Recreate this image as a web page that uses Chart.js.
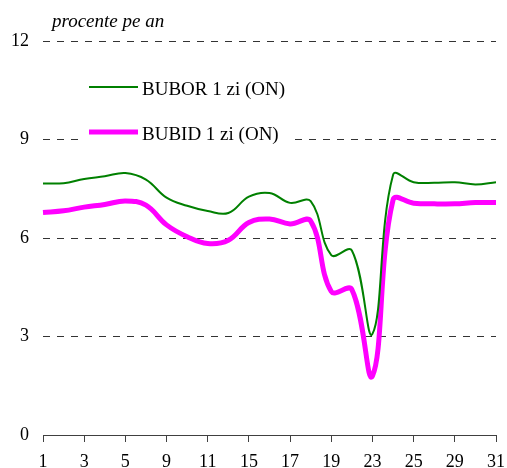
<!DOCTYPE html>
<html>
<head>
<meta charset="utf-8">
<script src="https://cdn.jsdelivr.net/npm/chart.js@4"></script>
<style>
  html, body { margin: 0; padding: 0; background: #fff; }
  #wrap { width: 507px; height: 468px; position: relative; }
</style>
</head>
<body>
<div id="wrap"><canvas id="chart" width="507" height="468"></canvas></div>
<script>
// zilele lucratoare ale lunii (etichete pe axa x, din doua in doua)
const days = ['1', '2', '3', '4', '5', '8', '9', '10', '11', '12', '15', '16',
  '17', '18', '19', '22', '23', '24', '25', '26', '29', '30', '31'];

const bubor = [7.66, 7.67, 7.8, 7.88, 7.98, 7.78, 7.23, 6.98, 6.82, 6.76, 7.26, 7.37,
  7.07, 7.12, 5.48, 5.62, 3.08, 7.92, 7.7, 7.68, 7.7, 7.63, 7.7];

const bubid = [6.78, 6.83, 6.94, 7.02, 7.13, 7.0, 6.4, 6.04, 5.83, 5.93, 6.47, 6.58,
  6.43, 6.52, 4.37, 4.43, 1.8, 7.16, 7.06, 7.04, 7.04, 7.08, 7.08];

const yTicks = [0, 3, 6, 9, 12];

const seriesNames = ['BUBOR 1 zi (ON)', 'BUBID 1 zi (ON)'];
const unitLabel = 'procente pe an';

const serif = "'Liberation Serif', 'Times New Roman', serif";

// titlu + legenda desenate direct pe canvas
const decorPlugin = {
  id: 'decor',
  afterDraw(chart) {
    const ctx = chart.ctx;
    ctx.save();
    ctx.fillStyle = '#000';
    ctx.font = 'italic 19px ' + serif;
    ctx.textBaseline = 'alphabetic';
    ctx.fillText(unitLabel, 52, 27);

    // fundal alb pentru legenda (acopera linia de grila de la 9)
    ctx.fillStyle = '#fff';
    ctx.fillRect(82, 62, 208, 90);

    const items = [
      { y: 87, color: '#008000', width: 2 },
      { y: 132, color: '#ff00ff', width: 5 }
    ];
    items.forEach((it, i) => {
      ctx.beginPath();
      ctx.strokeStyle = it.color;
      ctx.lineWidth = it.width;
      ctx.moveTo(89, it.y);
      ctx.lineTo(138, it.y);
      ctx.stroke();
      ctx.fillStyle = '#000';
      ctx.font = '19px ' + serif;
      ctx.textBaseline = 'middle';
      ctx.fillText(seriesNames[i], 142, it.y + 3);
    });
    ctx.restore();
  }
};

new Chart(document.getElementById('chart'), {
  type: 'line',
  data: {
    labels: days,
    datasets: [
      {
        label: seriesNames[0],
        data: bubor,
        borderColor: '#008000',
        borderWidth: 2,
        pointRadius: 0,
        tension: 0.4,
        fill: false
      },
      {
        label: seriesNames[1],
        data: bubid,
        borderColor: '#ff00ff',
        borderWidth: 5,
        pointRadius: 0,
        tension: 0.4,
        fill: false
      }
    ]
  },
  options: {
    responsive: false,
    animation: false,
    layout: { padding: { left: 0, right: 11, top: 41, bottom: 0 } },
    plugins: {
      legend: { display: false },
      tooltip: { enabled: false }
    },
    scales: {
      x: {
        offset: false,
        afterFit: (scale) => {
          scale.height = 33;
          scale.paddingLeft = 0;
          scale.paddingRight = 0;
        },
        grid: {
          drawOnChartArea: false,
          drawTicks: true,
          tickLength: 7,
          tickColor: (c) => (c.index % 2 === 0 ? '#404040' : 'rgba(0,0,0,0)')
        },
        border: { display: true, color: '#404040', width: 1 },
        ticks: {
          autoSkip: false,
          maxRotation: 0,
          padding: 9,
          color: '#000',
          font: { family: serif, size: 18 },
          callback: function(value, index) {
            return index % 2 === 0 ? this.getLabelForValue(value) : '';
          }
        }
      },
      y: {
        min: 0,
        max: 12,
        afterFit: (scale) => {
          scale.width = 43;
          scale.paddingTop = 0;
          scale.paddingBottom = 0;
        },
        afterBuildTicks: (scale) => {
          scale.ticks = yTicks.map(v => ({ value: v }));
        },
        grid: {
          drawTicks: false,
          lineWidth: 1,
          color: (c) => (c.tick && c.tick.value === 0 ? 'rgba(0,0,0,0)' : '#333333')
        },
        border: { display: false, dash: [7, 7] },
        ticks: {
          padding: 14,
          color: '#000',
          font: { family: serif, size: 18 }
        }
      }
    }
  },
  plugins: [decorPlugin]
});
</script>
</body>
</html>
